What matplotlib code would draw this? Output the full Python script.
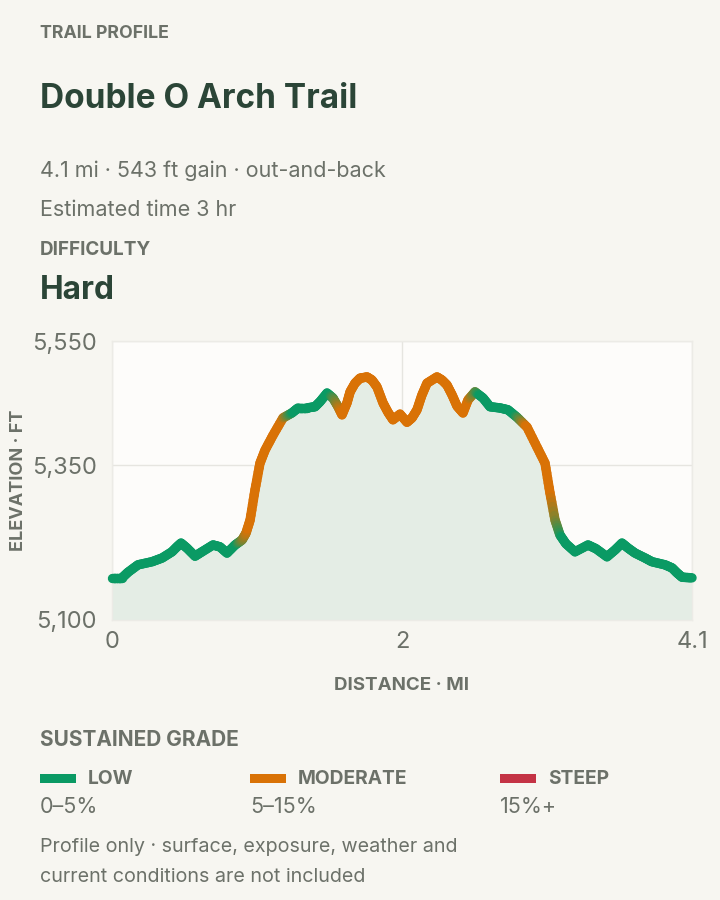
import numpy as np
import matplotlib
matplotlib.use("Agg")
import matplotlib.pyplot as plt
from matplotlib.collections import LineCollection
from matplotlib.patches import Rectangle
from matplotlib.colors import to_rgb

# --- data ---
distance_mi = [0.000, 0.071, 0.113, 0.184, 0.283, 0.354, 0.424, 0.459, 0.488, 0.530,
               0.587, 0.643, 0.714, 0.763, 0.813, 0.870, 0.919, 0.947, 0.976, 1.011,
               1.046, 1.082, 1.138, 1.209, 1.272, 1.315, 1.378, 1.435, 1.470, 1.520,
               1.562, 1.598, 1.626, 1.661, 1.683, 1.718, 1.753, 1.803, 1.838, 1.873,
               1.916, 1.951, 1.986, 2.036, 2.085, 2.121, 2.156, 2.191, 2.227, 2.297,
               2.333, 2.368, 2.404, 2.439, 2.481, 2.517, 2.566, 2.623, 2.672, 2.743,
               2.799, 2.863, 2.934, 3.004, 3.061, 3.096, 3.132, 3.167, 3.209, 3.273,
               3.365, 3.421, 3.499, 3.556, 3.605, 3.648, 3.697, 3.768, 3.817, 3.909,
               3.959, 3.994, 4.030, 4.100]
elevation_ft = [5168, 5168, 5177, 5189, 5194, 5200, 5210, 5218, 5224, 5216,
                5203, 5211, 5221, 5218, 5208, 5221, 5229, 5240, 5261, 5310,
                5353, 5374, 5398, 5426, 5434, 5442, 5442, 5444, 5452, 5466,
                5458, 5444, 5431, 5450, 5468, 5482, 5490, 5492, 5487, 5476,
                5450, 5435, 5423, 5432, 5419, 5426, 5439, 5463, 5482, 5492,
                5487, 5479, 5463, 5445, 5434, 5455, 5468, 5458, 5444, 5442,
                5439, 5427, 5411, 5379, 5353, 5305, 5261, 5237, 5223, 5210,
                5221, 5215, 5202, 5213, 5224, 5216, 5208, 5200, 5194, 5189,
                5184, 5176, 5169, 5168]

# sustained grade zones (mile breaks) and their class
grade_breaks = [0.92, 1.24, 1.58, 2.56, 2.89, 3.14]
grade_zones = ["low", "moderate", "low", "moderate", "low", "moderate", "low"]

grade_names = ["LOW", "MODERATE", "STEEP"]
grade_ranges = ["0\u20135%", "5\u201315%", "15%+"]
grade_colors = {"low": "#0a9a64", "moderate": "#d97206", "steep": "#c43345"}

y_ticks = [5100, 5350, 5550]
x_ticks = [0, 2.05, 4.1]
x_labels = ["0", "2", "4.1"]

BG = "#f7f6f1"
DARK = "#2b4537"
GRAY = "#6c7169"

plt.rcParams["font.family"] = ["Inter", "DejaVu Sans"]

fig = plt.figure(figsize=(7.2, 9), dpi=100, facecolor=BG)


def fx(px):
    return px / 720


def fy(py):
    return 1 - py / 900


# header
fig.text(fx(40), fy(33), "TRAIL PROFILE", fontsize=12.8, fontweight="bold", color=GRAY, va="center")
fig.text(fx(40), fy(99), "Double O Arch Trail", fontsize=24, fontweight="bold", color=DARK, va="center")
fig.text(fx(40), fy(171), "4.1 mi \u00b7 543 ft gain \u00b7 out-and-back", fontsize=15.5, color=GRAY, va="center")
fig.text(fx(40), fy(210), "Estimated time 3 hr", fontsize=15.5, color=GRAY, va="center")
fig.text(fx(40), fy(250), "DIFFICULTY", fontsize=13.6, fontweight="bold", color=GRAY, va="center")
fig.text(fx(40), fy(291), "Hard", fontsize=22.8, fontweight="bold", color=DARK, va="center")

# chart
ax = fig.add_axes([fx(112), fy(620), fx(692) - fx(112), fy(341) - fy(620)])
ax.set_facecolor("#fdfcfa")
ax.set_xlim(0, 4.1)
ax.set_ylim(5100, 5550)

ax.fill_between(distance_mi, elevation_ft, 5100, color="#e4ede5", zorder=1)

# colour each stretch of line by sustained grade, blending across breaks
def zone_color(d, w=0.04):
    c = np.array(to_rgb(grade_colors[grade_zones[0]]))
    for b, z in zip(grade_breaks, grade_zones[1:]):
        t = np.clip((d - (b - w)) / (2 * w), 0, 1)
        c = c * (1 - t) + np.array(to_rgb(grade_colors[z])) * t
    return c


segs, cols = [], []
n_sub = 6
for i in range(len(distance_mi) - 1):
    x0, x1 = distance_mi[i], distance_mi[i + 1]
    y0, y1 = elevation_ft[i], elevation_ft[i + 1]
    for k in range(n_sub):
        a, b = k / n_sub, (k + 1) / n_sub
        xa, xb = x0 + (x1 - x0) * a, x0 + (x1 - x0) * b
        ya, yb = y0 + (y1 - y0) * a, y0 + (y1 - y0) * b
        segs.append([(xa, ya), (xb, yb)])
        cols.append(zone_color((xa + xb) / 2))

lc = LineCollection(segs, colors=cols, linewidths=6.8, capstyle="round", joinstyle="round", zorder=3)
lc.set_clip_on(False)
ax.add_collection(lc)

ax.set_yticks(y_ticks)
ax.set_yticklabels([f"{v:,}" for v in y_ticks])
ax.set_xticks(x_ticks)
ax.set_xticklabels(x_labels)
ax.grid(True, color="#e6e5e0", linewidth=1)
ax.set_axisbelow(True)
ax.tick_params(length=0, labelsize=17, labelcolor=GRAY)
ax.tick_params(axis="y", pad=11)
ax.tick_params(axis="x", pad=8)
for s in ax.spines.values():
    s.set_color("#ecebe6")
    s.set_linewidth(1)

fig.text(fx(19), fy(480), "ELEVATION \u00b7 FT", rotation=90, fontsize=13, fontweight="bold",
         color=GRAY, ha="center", va="center")
fig.text(fx(402), fy(686), "DISTANCE \u00b7 MI", fontsize=13.5, fontweight="bold",
         color=GRAY, ha="center", va="center")

# legend
fig.text(fx(40), fy(740), "SUSTAINED GRADE", fontsize=15, fontweight="bold", color=GRAY, va="center")
col_x = [40, 250, 500]
for x, name, rng, key in zip(col_x, grade_names, grade_ranges, ["low", "moderate", "steep"]):
    fig.add_artist(Rectangle((fx(x), fy(783)), 36 / 720, 9 / 900, transform=fig.transFigure,
                             color=grade_colors[key], lw=0))
    fig.text(fx(x + 48), fy(779), name, fontsize=13.8, fontweight="bold", color=GRAY, va="center")
    fig.text(fx(x), fy(807), rng, fontsize=15.5, color=GRAY, va="center")

fig.text(fx(40), fy(847), "Profile only \u00b7 surface, exposure, weather and", fontsize=14.2, color=GRAY, va="center")
fig.text(fx(40), fy(877), "current conditions are not included", fontsize=14.2, color=GRAY, va="center")

fig.savefig("out.png", dpi=100, facecolor=BG)
